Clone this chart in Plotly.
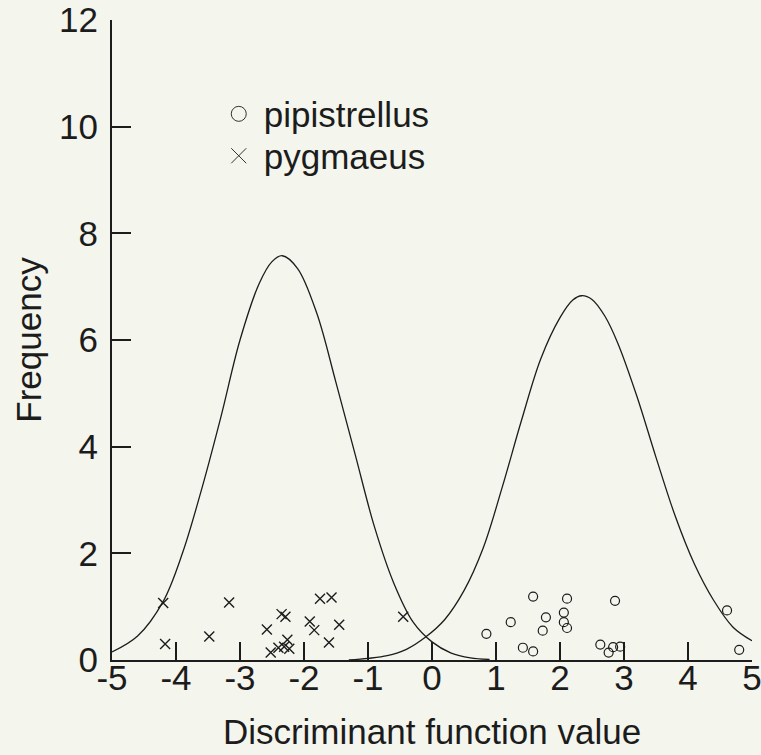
import plotly.graph_objects as go

# Scatter data (discriminant value, jittered frequency position)
pyg_x = [-4.20, -4.17, -3.48, -3.17, -2.58, -2.52, -2.40, -2.35, -2.29, -2.31, -2.26, -2.23,
         -1.91, -1.84, -1.75, -1.57, -1.61, -1.45, -0.45]
pyg_y = [1.07, 0.30, 0.44, 1.08, 0.57, 0.14, 0.23, 0.86, 0.81, 0.25, 0.38, 0.21,
         0.72, 0.56, 1.15, 1.17, 0.33, 0.66, 0.81]

pip_x = [0.85, 1.23, 1.58, 1.42, 1.58, 1.78, 1.73, 2.11, 2.06, 2.06, 2.11, 2.86,
         2.63, 2.76, 2.83, 2.94, 4.61, 4.80]
pip_y = [0.49, 0.71, 1.19, 0.23, 0.16, 0.80, 0.55, 1.15, 0.89, 0.71, 0.60, 1.11,
         0.29, 0.14, 0.24, 0.25, 0.93, 0.19]

# Fitted curves
pyg_curve_x = [-5.0, -4.6, -4.2, -3.9, -3.6, -3.3, -3.0, -2.7, -2.5, -2.34, -2.1, -1.8,
               -1.5, -1.2, -0.9, -0.6, -0.3, 0.0, 0.3, 0.6, 0.9]
pyg_curve_y = [0.15, 0.45, 1.10, 2.00, 3.20, 4.55, 6.00, 7.06, 7.47, 7.58, 7.34, 6.50,
               5.20, 3.85, 2.50, 1.45, 0.72, 0.34, 0.13, 0.04, 0.01]

pip_curve_x = [-1.3, -1.0, -0.7, -0.4, -0.1, 0.2, 0.5, 0.8, 1.1, 1.4, 1.7, 2.0, 2.2, 2.34,
               2.5, 2.7, 2.9, 3.2, 3.5, 3.8, 4.1, 4.4, 4.7, 5.0]
pip_curve_y = [0.0, 0.03, 0.08, 0.20, 0.43, 0.76, 1.30, 2.10, 3.25, 4.50, 5.65, 6.42, 6.75, 6.83,
               6.76, 6.45, 5.95, 4.95, 3.80, 2.70, 1.80, 1.12, 0.62, 0.36]

x_ticks = [-5, -4, -3, -2, -1, 0, 1, 2, 3, 4, 5]
y_ticks = [0, 2, 4, 6, 8, 10, 12]

ink = "#1c1c1c"
bg = "#f4f5ed"
font = "Liberation Sans, Arial, sans-serif"

fig = go.Figure()
fig.add_trace(go.Scatter(x=pyg_curve_x, y=pyg_curve_y, mode="lines",
                         line=dict(color=ink, width=1.3, shape="spline"), showlegend=False))
fig.add_trace(go.Scatter(x=pip_curve_x, y=pip_curve_y, mode="lines",
                         line=dict(color=ink, width=1.3, shape="spline"), showlegend=False))
fig.add_trace(go.Scatter(x=pip_x, y=pip_y, mode="markers", name="pipistrellus",
                         marker=dict(symbol="circle-open", size=9, color=ink, line=dict(width=1.2)),
                         showlegend=False))
fig.add_trace(go.Scatter(x=pyg_x, y=pyg_y, mode="markers", name="pygmaeus",
                         marker=dict(symbol="x-thin-open", size=10, color=ink, line=dict(width=1.4)),
                         showlegend=False))
# legend entries
fig.add_trace(go.Scatter(x=[None], y=[None], mode="markers", name="pipistrellus", legend="legend",
                         marker=dict(symbol="circle-open", size=15, color="#333", line=dict(width=1))))
fig.add_trace(go.Scatter(x=[None], y=[None], mode="markers", name="pygmaeus", legend="legend2",
                         marker=dict(symbol="x-thin-open", size=15, color="#333", line=dict(width=1))))

leg_common = dict(xanchor="left", yanchor="middle", bgcolor="rgba(0,0,0,0)",
                  font=dict(size=35, color=ink), itemwidth=40)

fig.update_layout(
    width=761, height=755,
    margin=dict(l=112, r=9, t=20, b=95),
    paper_bgcolor=bg, plot_bgcolor=bg,
    font=dict(family=font, size=35, color=ink),
    legend=dict(x=0.159, y=0.853, **leg_common),
    legend2=dict(x=0.159, y=0.7875, **leg_common),
    xaxis=dict(range=[-5, 5], tickvals=x_ticks, ticktext=[str(v) for v in x_ticks],
               showgrid=False, zeroline=False, showline=True, linecolor=ink, linewidth=2,
               ticks="inside", ticklen=18, tickwidth=2, tickcolor=ink, automargin=False,
               ticklabeloverflow="allow", ticklabelstandoff=-14,
               title=dict(text="Discriminant function value", font=dict(size=35), standoff=23)),
    yaxis=dict(range=[0, 12], tickvals=y_ticks, ticktext=[str(v) for v in y_ticks],
               showgrid=False, zeroline=False, showline=True, linecolor=ink, linewidth=2,
               ticks="inside", ticklen=19, tickwidth=2, tickcolor=ink, automargin=False,
               ticklabeloverflow="allow", ticklabelstandoff=5,
               title=dict(text="Frequency", font=dict(size=35), standoff=7)),
)

fig.write_html("out.html", config={"displayModeBar": False},
               post_script="document.body.style.margin='0';document.body.style.background='%s';" % bg)
